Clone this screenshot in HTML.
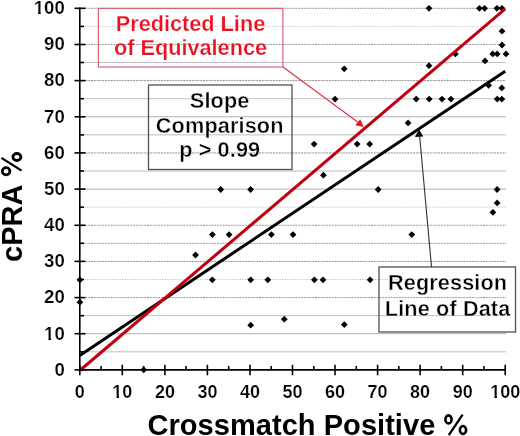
<!DOCTYPE html><html><head><meta charset="utf-8"><style>html,body{margin:0;padding:0;background:#fff;}svg{display:block;will-change:transform;}text{font-family:"Liberation Sans",sans-serif;font-weight:bold;}</style></head><body>
<svg width="520" height="436" viewBox="0 0 520 436">
<rect width="520" height="436" fill="#fff"/>
<g stroke-width="1"><line x1="79.8" y1="351.82" x2="506" y2="351.82" stroke="#c0c0c0"/><line x1="79.8" y1="333.74" x2="506" y2="333.74" stroke="#b0b0b0"/><line x1="79.8" y1="315.66" x2="506" y2="315.66" stroke="#c0c0c0"/><line x1="79.8" y1="297.58" x2="506" y2="297.58" stroke="#9c9c9c" stroke-dasharray="2,0.8"/><line x1="79.8" y1="279.50" x2="506" y2="279.50" stroke="#b4b4b4" stroke-dasharray="1,1.5"/><line x1="79.8" y1="261.42" x2="506" y2="261.42" stroke="#909090" stroke-dasharray="2,0.8"/><line x1="79.8" y1="243.34" x2="506" y2="243.34" stroke="#9c9c9c" stroke-dasharray="2,0.8"/><line x1="79.8" y1="225.26" x2="506" y2="225.26" stroke="#9c9c9c" stroke-dasharray="2,0.8"/><line x1="79.8" y1="207.18" x2="506" y2="207.18" stroke="#b4b4b4" stroke-dasharray="1,1.5"/><line x1="79.8" y1="189.10" x2="506" y2="189.10" stroke="#b0b0b0"/><line x1="79.8" y1="171.02" x2="506" y2="171.02" stroke="#bcbcbc"/><line x1="79.8" y1="152.94" x2="506" y2="152.94" stroke="#909090" stroke-dasharray="2,0.8"/><line x1="79.8" y1="134.86" x2="506" y2="134.86" stroke="#bcbcbc"/><line x1="79.8" y1="116.78" x2="506" y2="116.78" stroke="#b0b0b0"/><line x1="79.8" y1="98.70" x2="506" y2="98.70" stroke="#c0c0c0"/><line x1="79.8" y1="80.62" x2="506" y2="80.62" stroke="#909090" stroke-dasharray="2,0.8"/><line x1="79.8" y1="62.54" x2="506" y2="62.54" stroke="#c0c0c0"/><line x1="79.8" y1="44.46" x2="506" y2="44.46" stroke="#9c9c9c" stroke-dasharray="2,0.8"/><line x1="79.8" y1="26.38" x2="506" y2="26.38" stroke="#b4b4b4" stroke-dasharray="1,1.5"/><line x1="79.8" y1="8.30" x2="506" y2="8.30" stroke="#9c9c9c" stroke-dasharray="2,0.8"/></g>
<rect x="98.4" y="8.4" width="184.5" height="58.6" fill="none" stroke="#e06078" stroke-width="1.2"/>
<rect x="148.5" y="85" width="143.5" height="84.5" fill="none" stroke="#505050" stroke-width="1.3"/>
<rect x="379" y="267" width="136.5" height="65" fill="none" stroke="#505050" stroke-width="1.3"/>
<g fill="#000"><path d="M79.9 276.4L83.3 279.8L79.9 283.2L76.5 279.8Z"/><path d="M79.9 298.8L83.3 302.2L79.9 305.6L76.5 302.2Z"/><path d="M143.7 366.4L147.1 369.8L143.7 373.2L140.3 369.8Z"/><path d="M195.5 251.6L198.9 255.0L195.5 258.4L192.1 255.0Z"/><path d="M212.4 231.2L215.8 234.6L212.4 238.0L209.0 234.6Z"/><path d="M212.3 276.4L215.7 279.8L212.3 283.2L208.9 279.8Z"/><path d="M220.7 186.1L224.1 189.5L220.7 192.9L217.3 189.5Z"/><path d="M229.1 231.2L232.5 234.6L229.1 238.0L225.7 234.6Z"/><path d="M250.6 186.1L254.0 189.5L250.6 192.9L247.2 189.5Z"/><path d="M250.7 276.4L254.1 279.8L250.7 283.2L247.3 279.8Z"/><path d="M250.7 321.8L254.1 325.2L250.7 328.6L247.3 325.2Z"/><path d="M267.8 276.4L271.2 279.8L267.8 283.2L264.4 279.8Z"/><path d="M271.4 231.2L274.8 234.6L271.4 238.0L268.0 234.6Z"/><path d="M284.3 315.8L287.7 319.2L284.3 322.6L280.9 319.2Z"/><path d="M293.0 231.2L296.4 234.6L293.0 238.0L289.6 234.6Z"/><path d="M314.1 140.7L317.5 144.1L314.1 147.5L310.7 144.1Z"/><path d="M314.4 276.4L317.8 279.8L314.4 283.2L311.0 279.8Z"/><path d="M323.4 171.8L326.8 175.2L323.4 178.6L320.0 175.2Z"/><path d="M323.0 276.4L326.4 279.8L323.0 283.2L319.6 279.8Z"/><path d="M335.1 95.7L338.5 99.1L335.1 102.5L331.7 99.1Z"/><path d="M344.2 65.4L347.6 68.8L344.2 72.2L340.8 68.8Z"/><path d="M344.3 321.2L347.7 324.6L344.3 328.0L340.9 324.6Z"/><path d="M357.2 140.7L360.6 144.1L357.2 147.5L353.8 144.1Z"/><path d="M369.7 140.7L373.1 144.1L369.7 147.5L366.3 144.1Z"/><path d="M370.1 276.4L373.5 279.8L370.1 283.2L366.7 279.8Z"/><path d="M378.2 186.1L381.6 189.5L378.2 192.9L374.8 189.5Z"/><path d="M408.1 119.5L411.5 122.9L408.1 126.3L404.7 122.9Z"/><path d="M411.8 231.2L415.2 234.6L411.8 238.0L408.4 234.6Z"/><path d="M416.2 95.7L419.6 99.1L416.2 102.5L412.8 99.1Z"/><path d="M429.0 4.9L432.4 8.3L429.0 11.7L425.6 8.3Z"/><path d="M429.0 62.3L432.4 65.7L429.0 69.1L425.6 65.7Z"/><path d="M429.2 95.7L432.6 99.1L429.2 102.5L425.8 99.1Z"/><path d="M442.0 95.7L445.4 99.1L442.0 102.5L438.6 99.1Z"/><path d="M451.0 95.7L454.4 99.1L451.0 102.5L447.6 99.1Z"/><path d="M455.4 50.5L458.8 53.9L455.4 57.3L452.0 53.9Z"/><path d="M479.4 4.9L482.8 8.3L479.4 11.7L476.0 8.3Z"/><path d="M484.6 4.9L488.0 8.3L484.6 11.7L481.2 8.3Z"/><path d="M485.0 57.5L488.4 60.9L485.0 64.3L481.6 60.9Z"/><path d="M488.6 81.9L492.0 85.3L488.6 88.7L485.2 85.3Z"/><path d="M492.8 50.5L496.2 53.9L492.8 57.3L489.4 53.9Z"/><path d="M492.9 208.9L496.3 212.3L492.9 215.7L489.5 212.3Z"/><path d="M496.9 4.9L500.3 8.3L496.9 11.7L493.5 8.3Z"/><path d="M497.2 50.5L500.6 53.9L497.2 57.3L493.8 53.9Z"/><path d="M497.2 95.7L500.6 99.1L497.2 102.5L493.8 99.1Z"/><path d="M497.1 186.1L500.5 189.5L497.1 192.9L493.7 189.5Z"/><path d="M497.1 199.5L500.5 202.9L497.1 206.3L493.7 202.9Z"/><path d="M502.0 4.9L505.4 8.3L502.0 11.7L498.6 8.3Z"/><path d="M502.0 27.8L505.4 31.2L502.0 34.6L498.6 31.2Z"/><path d="M502.0 41.6L505.4 45.0L502.0 48.4L498.6 45.0Z"/><path d="M501.8 84.5L505.2 87.9L501.8 91.3L498.4 87.9Z"/><path d="M501.8 95.7L505.2 99.1L501.8 102.5L498.4 99.1Z"/><path d="M506.0 50.5L509.4 53.9L506.0 57.3L502.6 53.9Z"/></g>
<line x1="79.8" y1="355.4" x2="505.2" y2="71.2" stroke="#000" stroke-width="3"/>
<line x1="79.8" y1="370.5" x2="505.2" y2="8.9" stroke="#c00010" stroke-width="3"/>
<line x1="283" y1="67" x2="358" y2="122.3" stroke="#e03040" stroke-width="1.1"/>
<polygon points="363.8,127 355.2,125.3 360.2,119.2" fill="#f01020"/>
<line x1="431.5" y1="267" x2="419.7" y2="136.5" stroke="#303030" stroke-width="1.1"/>
<polygon points="419.1,129.2 415,137 423.2,136.6" fill="#000"/>
<g stroke="#000" stroke-width="1.6"><line x1="79.8" y1="7.5" x2="79.8" y2="370.7"/><line x1="79.0" y1="369.9" x2="506.0" y2="369.9"/><line x1="74.5" y1="369.9" x2="85.5" y2="369.9"/><line x1="79.8" y1="364.8" x2="79.8" y2="375.3"/><line x1="79.8" y1="351.8" x2="84" y2="351.8"/><line x1="101.1" y1="366" x2="101.1" y2="369.9"/><line x1="74.5" y1="333.7" x2="85.5" y2="333.7"/><line x1="122.3" y1="364.8" x2="122.3" y2="375.3"/><line x1="79.8" y1="315.7" x2="84" y2="315.7"/><line x1="143.6" y1="366" x2="143.6" y2="369.9"/><line x1="74.5" y1="297.6" x2="85.5" y2="297.6"/><line x1="164.9" y1="364.8" x2="164.9" y2="375.3"/><line x1="79.8" y1="279.5" x2="84" y2="279.5"/><line x1="186.1" y1="366" x2="186.1" y2="369.9"/><line x1="74.5" y1="261.4" x2="85.5" y2="261.4"/><line x1="207.4" y1="364.8" x2="207.4" y2="375.3"/><line x1="79.8" y1="243.3" x2="84" y2="243.3"/><line x1="228.7" y1="366" x2="228.7" y2="369.9"/><line x1="74.5" y1="225.3" x2="85.5" y2="225.3"/><line x1="250.0" y1="364.8" x2="250.0" y2="375.3"/><line x1="79.8" y1="207.2" x2="84" y2="207.2"/><line x1="271.2" y1="366" x2="271.2" y2="369.9"/><line x1="74.5" y1="189.1" x2="85.5" y2="189.1"/><line x1="292.5" y1="364.8" x2="292.5" y2="375.3"/><line x1="79.8" y1="171.0" x2="84" y2="171.0"/><line x1="313.8" y1="366" x2="313.8" y2="369.9"/><line x1="74.5" y1="152.9" x2="85.5" y2="152.9"/><line x1="335.0" y1="364.8" x2="335.0" y2="375.3"/><line x1="79.8" y1="134.9" x2="84" y2="134.9"/><line x1="356.3" y1="366" x2="356.3" y2="369.9"/><line x1="74.5" y1="116.8" x2="85.5" y2="116.8"/><line x1="377.6" y1="364.8" x2="377.6" y2="375.3"/><line x1="79.8" y1="98.7" x2="84" y2="98.7"/><line x1="398.8" y1="366" x2="398.8" y2="369.9"/><line x1="74.5" y1="80.6" x2="85.5" y2="80.6"/><line x1="420.1" y1="364.8" x2="420.1" y2="375.3"/><line x1="79.8" y1="62.5" x2="84" y2="62.5"/><line x1="441.4" y1="366" x2="441.4" y2="369.9"/><line x1="74.5" y1="44.5" x2="85.5" y2="44.5"/><line x1="462.7" y1="364.8" x2="462.7" y2="375.3"/><line x1="79.8" y1="26.4" x2="84" y2="26.4"/><line x1="483.9" y1="366" x2="483.9" y2="369.9"/><line x1="74.5" y1="8.3" x2="85.5" y2="8.3"/><line x1="505.2" y1="364.8" x2="505.2" y2="375.3"/></g>
<g font-size="18.6" fill="#000" stroke="#fff" stroke-width="0.2"><text x="64.8" y="375.7" text-anchor="end">0</text><text x="64.8" y="339.5" text-anchor="end">10</text><text x="64.8" y="303.4" text-anchor="end">20</text><text x="64.8" y="267.2" text-anchor="end">30</text><text x="64.8" y="231.1" text-anchor="end">40</text><text x="64.8" y="194.9" text-anchor="end">50</text><text x="64.8" y="158.7" text-anchor="end">60</text><text x="64.8" y="122.6" text-anchor="end">70</text><text x="64.8" y="86.4" text-anchor="end">80</text><text x="64.8" y="50.3" text-anchor="end">90</text><text x="64.8" y="14.1" text-anchor="end">100</text></g>
<g font-size="18" fill="#000" stroke="#fff" stroke-width="0.2"><text x="79.8" y="397.6" text-anchor="middle">0</text><text x="122.3" y="397.6" text-anchor="middle">10</text><text x="164.9" y="397.6" text-anchor="middle">20</text><text x="207.4" y="397.6" text-anchor="middle">30</text><text x="250.0" y="397.6" text-anchor="middle">40</text><text x="292.5" y="397.6" text-anchor="middle">50</text><text x="335.0" y="397.6" text-anchor="middle">60</text><text x="377.6" y="397.6" text-anchor="middle">70</text><text x="420.1" y="397.6" text-anchor="middle">80</text><text x="462.7" y="397.6" text-anchor="middle">90</text><text x="505.2" y="397.6" text-anchor="middle">100</text></g>
<g fill="#fff"><rect x="34.33" y="11.96" width="3.78" height="3.72"/><rect x="40.69" y="11.96" width="3.35" height="3.72"/><rect x="44.67" y="337.40" width="3.78" height="3.72"/><rect x="51.04" y="337.40" width="3.35" height="3.72"/><rect x="112.87" y="395.53" width="3.65" height="3.60"/><rect x="119.03" y="395.53" width="3.24" height="3.60"/><rect x="490.73" y="395.53" width="3.65" height="3.60"/><rect x="496.88" y="395.53" width="3.24" height="3.60"/></g>
<text x="147.5" y="435.4" font-size="29" letter-spacing="0.05" fill="#000">Crossmatch Positive</text>
<g fill="none" stroke="#000" stroke-width="2.6"><ellipse cx="448.5" cy="419.4" rx="3.1" ry="4.0"/><ellipse cx="463" cy="430" rx="3.1" ry="4.0"/></g>
<line x1="462.6" y1="414.6" x2="448.8" y2="435.2" stroke="#000" stroke-width="2.3"/>
<text transform="translate(21.8,262.0) rotate(-90)" font-size="29" fill="#000">cPRA</text>
<g fill="none" stroke="#000" stroke-width="2.8"><ellipse cx="16.9" cy="157" rx="4.0" ry="3.5"/><ellipse cx="6.1" cy="171.2" rx="3.8" ry="3.6"/></g>
<line x1="1.4" y1="157.9" x2="21.6" y2="170.6" stroke="#000" stroke-width="2.3"/>
<g font-size="21.7" fill="#ea1020" stroke="#fff" stroke-width="0.25" text-anchor="middle"><text x="190.5" y="31">Predicted Line</text><text x="190.5" y="55.4">of Equivalence</text></g>
<g font-size="21.7" fill="#000" stroke="#fff" stroke-width="0.4" letter-spacing="0.12" text-anchor="middle"><text x="219.7" y="108.1">Slope</text><text x="219.7" y="133.1">Comparison</text><text x="219.7" y="157.3">p &gt; 0.99</text></g>
<g font-size="21.7" fill="#000" stroke="#fff" stroke-width="0.4" letter-spacing="0.12" text-anchor="middle"><text x="447.6" y="290.4">Regression</text><text x="447.6" y="315.6">Line of Data</text></g>
</svg></body></html>
